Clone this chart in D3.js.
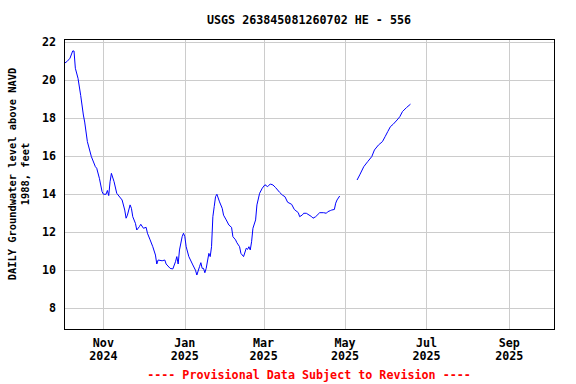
<!DOCTYPE html>
<html>
<head>
<meta charset="utf-8">
<script src="https://cdn.jsdelivr.net/npm/d3@7"></script>
<style>
  body { margin: 0; background: #fff; }
  text { font-family: "DejaVu Sans Mono", "Liberation Mono", monospace; font-weight: bold; }
</style>
</head>
<body>
<script>
// daily water level, feet above NAVD 1988, null = gap in record
var dates = [
  "2024-10-03","2024-10-05","2024-10-07","2024-10-09","2024-10-10","2024-10-11","2024-10-13","2024-10-15",
  "2024-10-17","2024-10-18","2024-10-20","2024-10-23","2024-10-26","2024-10-27","2024-10-29","2024-10-31",
  "2024-11-01","2024-11-03","2024-11-04","2024-11-05","2024-11-06","2024-11-07","2024-11-09","2024-11-11",
  "2024-11-15","2024-11-17","2024-11-18","2024-11-19","2024-11-21","2024-11-22","2024-11-23","2024-11-25",
  "2024-11-26","2024-11-28","2024-11-29","2024-12-01","2024-12-03","2024-12-04","2024-12-06","2024-12-08",
  "2024-12-10","2024-12-11","2024-12-12","2024-12-15","2024-12-17","2024-12-18","2024-12-21","2024-12-23",
  "2024-12-25","2024-12-26","2024-12-27","2024-12-28","2024-12-30","2024-12-31","2025-01-01","2025-01-02",
  "2025-01-04","2025-01-07","2025-01-09","2025-01-10","2025-01-12","2025-01-13","2025-01-14","2025-01-15",
  "2025-01-16","2025-01-17","2025-01-19","2025-01-20","2025-01-21","2025-01-22","2025-01-23","2025-01-24",
  "2025-01-25","2025-01-27","2025-01-29","2025-01-30","2025-02-01","2025-02-03","2025-02-05","2025-02-06",
  "2025-02-08","2025-02-09","2025-02-11","2025-02-12","2025-02-14","2025-02-16","2025-02-17","2025-02-18",
  "2025-02-19","2025-02-20","2025-02-21","2025-02-23","2025-02-24","2025-02-26","2025-02-28","2025-03-02",
  "2025-03-04","2025-03-06","2025-03-08","2025-03-10","2025-03-13","2025-03-15","2025-03-17","2025-03-19",
  "2025-03-22","2025-03-24","2025-03-27","2025-03-28","2025-03-30","2025-03-31","2025-04-02","2025-04-04",
  "2025-04-06","2025-04-07","2025-04-09","2025-04-12","2025-04-15","2025-04-17","2025-04-18","2025-04-20",
  "2025-04-21","2025-04-23","2025-04-24","2025-04-25","2025-04-27","2025-05-04",
  "2025-05-10","2025-05-12","2025-05-15","2025-05-18","2025-05-21","2025-05-23","2025-05-26","2025-05-29",
  "2025-05-31","2025-06-02","2025-06-04","2025-06-06","2025-06-09","2025-06-11","2025-06-13","2025-06-16",
  "2025-06-19"
];
var levels = [
  20.9,21.0,21.16,21.54,21.54,20.63,20.1,19.2,
  18.17,17.8,16.77,15.98,15.45,15.37,14.84,14.14,
  14.0,14.0,14.2,13.93,14.66,15.1,14.66,14.05,
  13.7,13.17,12.74,12.9,13.44,13.26,12.82,12.47,
  12.12,12.3,12.42,12.21,12.26,11.95,11.6,11.24,
  10.8,10.33,10.54,10.5,10.54,10.33,10.1,10.07,
  10.45,10.72,10.33,11.07,11.77,11.95,11.77,11.24,
  10.72,10.28,10.0,9.75,10.19,10.4,10.1,10.1,
  9.87,10.1,10.89,10.72,11.24,12.82,13.35,13.87,
  14.0,13.6,13.26,12.9,12.65,12.38,12.26,11.77,
  11.6,11.45,11.24,10.89,10.72,11.16,11.1,11.24,
  11.07,11.5,12.21,12.65,13.44,14.05,14.32,14.5,
  14.4,14.54,14.49,14.35,14.1,13.96,13.87,13.58,
  13.47,13.2,13.03,12.82,12.91,13.0,13.0,12.91,
  12.82,12.74,12.82,13.03,13.03,13.0,13.08,13.14,
  13.17,13.2,13.53,13.7,13.91,null,
  14.75,15.02,15.45,15.72,15.98,16.33,16.59,16.77,
  17.03,17.3,17.56,17.68,17.91,18.08,18.35,18.56,
  18.74
];
var yTicks = [8, 10, 12, 14, 16, 18, 20, 22];
var xTicks = ["2024-11-01","2025-01-01","2025-03-01","2025-05-01","2025-07-01","2025-09-01"];

var W = 576, H = 384;
var pL = 64, pR = 554, pT = 39, pB = 329;
var parse = d3.timeParse("%Y-%m-%d");
var fmtMon = d3.timeFormat("%b"), fmtYear = d3.timeFormat("%Y");

var svg = d3.select("body").append("svg")
  .attr("width", W)
  .attr("height", H);

var x = d3.scaleTime()
  .domain([new Date(2024, 9, 2, 12), new Date(2025, 9, 4, 12)])
  .range([pL, pR]);
var y = d3.scaleLinear()
  .domain([6.91, 22.17])
  .range([pB, pT]);

// grid
svg.selectAll("line.hgrid")
  .data(yTicks)
  .enter().append("line")
    .attr("class", "hgrid")
    .attr("x1", pL).attr("x2", pR)
    .attr("y1", function(d) { return Math.round(y(d)) + 0.5; })
    .attr("y2", function(d) { return Math.round(y(d)) + 0.5; })
    .attr("stroke", "#cccccc");
svg.selectAll("line.vgrid")
  .data(xTicks.map(parse))
  .enter().append("line")
    .attr("class", "vgrid")
    .attr("y1", pT).attr("y2", pB)
    .attr("x1", function(d) { return Math.round(x(d)) + 0.5; })
    .attr("x2", function(d) { return Math.round(x(d)) + 0.5; })
    .attr("stroke", "#cccccc");

// data line
var pts = dates.map(function(d, i) { return { date: parse(d), v: levels[i] }; });
var line = d3.line()
  .defined(function(d) { return d.v != null; })
  .x(function(d) { return x(d.date); })
  .y(function(d) { return y(d.v); });
svg.append("path")
  .datum(pts)
  .attr("d", line)
  .attr("fill", "none")
  .attr("stroke", "#0000ff")
  .attr("stroke-width", 1);

// frame
svg.append("rect")
  .attr("x", pL + 0.5).attr("y", pT + 0.5)
  .attr("width", pR - pL).attr("height", pB - pT)
  .attr("fill", "none")
  .attr("stroke", "#000")
  .attr("stroke-width", 1);

// y tick labels
svg.selectAll("text.ylab")
  .data(yTicks)
  .enter().append("text")
    .attr("class", "ylab")
    .attr("x", 56)
    .attr("y", function(d) { return y(d) + 4; })
    .attr("text-anchor", "end")
    .attr("font-size", "11.7px")
    .text(function(d) { return d; });

// x tick labels
var xl = svg.selectAll("g.xlab")
  .data(xTicks.map(parse))
  .enter().append("g")
    .attr("class", "xlab")
    .attr("transform", function(d) { return "translate(" + x(d) + ",0)"; });
xl.append("text")
  .attr("y", 347)
  .attr("text-anchor", "middle")
  .attr("font-size", "11.7px")
  .text(function(d) { return fmtMon(d); });
xl.append("text")
  .attr("y", 360)
  .attr("text-anchor", "middle")
  .attr("font-size", "11.7px")
  .text(function(d) { return fmtYear(d); });

// title
svg.append("text")
  .attr("x", (pL + pR) / 2)
  .attr("y", 24)
  .attr("text-anchor", "middle")
  .attr("font-size", "11.7px")
  .text("USGS 263845081260702 HE - 556");

// y axis title
var yt = svg.append("text")
  .attr("transform", "translate(16,174) rotate(-90)")
  .attr("text-anchor", "middle")
  .attr("font-size", "10.4px");
yt.append("tspan").attr("x", 0).attr("dy", 0).text("DAILY Groundwater level above NAVD");
yt.append("tspan").attr("x", 0).attr("dy", 13).text("1988, feet");

// footer
svg.append("text")
  .attr("x", (pL + pR) / 2)
  .attr("y", 379)
  .attr("text-anchor", "middle")
  .attr("font-size", "11.7px")
  .attr("fill", "#ff0000")
  .text("---- Provisional Data Subject to Revision ----");
</script>
</body>
</html>
